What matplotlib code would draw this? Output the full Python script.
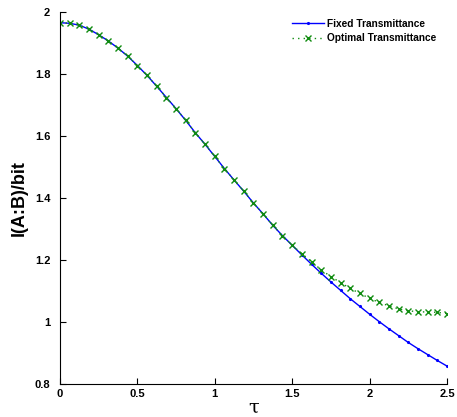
import numpy as np
import matplotlib.pyplot as plt

plt.rcParams['font.family'] = ['Liberation Sans', 'DejaVu Sans']

# tau grid (step 0.0625)
tau = np.linspace(0, 2.5, 41)

# fixed transmittance
fixed = [1.964, 1.962, 1.956, 1.943, 1.925, 1.905, 1.882, 1.856, 1.826, 1.794,
         1.759, 1.723, 1.687, 1.649, 1.609, 1.572, 1.533, 1.494, 1.457, 1.421,
         1.383, 1.348, 1.311, 1.278, 1.247, 1.216, 1.186, 1.157, 1.129, 1.102,
         1.075, 1.050, 1.025, 1.001, 0.978, 0.956, 0.934, 0.914, 0.895, 0.876,
         0.858]

# optimal transmittance
optimal = [1.964, 1.962, 1.956, 1.943, 1.925, 1.905, 1.882, 1.856, 1.826, 1.794,
           1.759, 1.723, 1.687, 1.649, 1.609, 1.572, 1.533, 1.494, 1.457, 1.421,
           1.383, 1.348, 1.311, 1.278, 1.247, 1.220, 1.194, 1.168, 1.146, 1.127,
           1.108, 1.092, 1.076, 1.063, 1.052, 1.042, 1.036, 1.033, 1.032, 1.031,
           1.027]

fig = plt.figure(figsize=(4.57, 4.17), dpi=100)
ax = fig.add_axes([0.1313, 0.079, 0.8467, 0.8934])

ax.plot(tau, fixed, color='blue', lw=1.0, marker='.', markersize=2.5,
        label='Fixed Transmittance')
ax.plot(tau, optimal, color='#108c10', lw=1.0, ls=(0, (1, 3)), marker='x',
        markersize=4.5, markeredgewidth=1.0, label='Optimal Transmittance')

ax.set_xlim(0, 2.5)
ax.set_ylim(0.8, 2.0)
ax.set_xticks([0, 0.5, 1, 1.5, 2, 2.5])
ax.set_xticklabels(['0', '0.5', '1', '1.5', '2', '2.5'])
ax.set_yticks([0.8, 1, 1.2, 1.4, 1.6, 1.8, 2])
ax.set_yticklabels(['0.8', '1', '1.2', '1.4', '1.6', '1.8', '2'])
ax.tick_params(direction='in', length=4, width=0.8, labelsize=8)
ax.tick_params(axis='y', pad=7)
for lab in ax.get_xticklabels() + ax.get_yticklabels():
    lab.set_fontweight('bold')

ax.spines['top'].set_visible(False)
ax.spines['right'].set_visible(False)

ax.set_xlabel('τ', fontsize=14, family='DejaVu Serif', labelpad=0)
ax.set_ylabel('I(A:B)/bit', fontsize=13, fontweight='bold', labelpad=5)

leg = ax.legend(loc='upper right', frameon=False,
                prop={'weight': 'bold', 'size': 7.3}, handlelength=3.1,
                handletextpad=0.3, borderaxespad=0.3, labelspacing=0.45,
                bbox_to_anchor=(0.99, 1.0))

fig.savefig('out.png', dpi=100)
